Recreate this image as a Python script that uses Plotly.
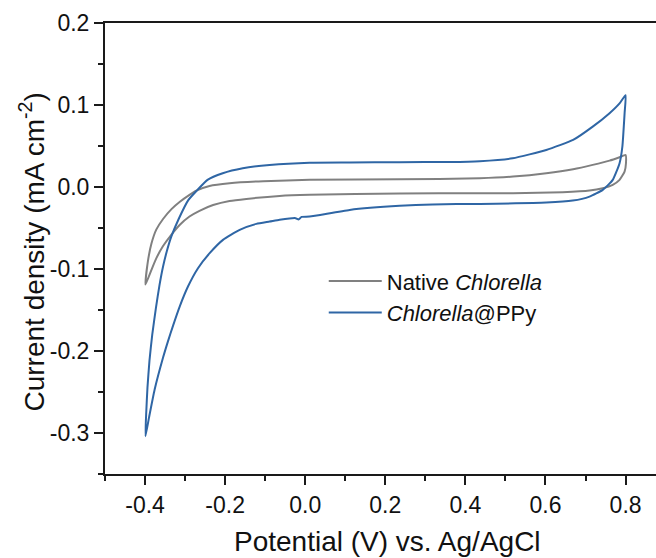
import plotly.graph_objects as go

# Native Chlorella: forward (anodic) branch then reverse branch
native_v = [-0.399, -0.393, -0.384, -0.372, -0.355, -0.334, -0.313, -0.289, -0.272, -0.239,
            -0.189, -0.105, 0.011, 0.236, 0.436, 0.519, 0.602, 0.669, 0.718, 0.760, 0.785, 0.800,
            0.801, 0.7975, 0.785, 0.768, 0.743, 0.710, 0.643, 0.519, 0.436, 0.236, 0.011,
            -0.064, -0.147, -0.189, -0.230, -0.264, -0.289, -0.313, -0.334, -0.355, -0.372,
            -0.384, -0.399]
native_i = [-0.119, -0.091, -0.069, -0.052, -0.039, -0.027, -0.018, -0.0096, -0.0044, 0.0013,
            0.0046, 0.0071, 0.0087, 0.0093, 0.0107, 0.0127, 0.0168, 0.0217, 0.027, 0.0322, 0.0363, 0.039,
            0.029, 0.0188, 0.0087, 0.0026, -0.0015, -0.0044, -0.0063, -0.0076, -0.0076, -0.0078, -0.0096,
            -0.011, -0.0145, -0.017, -0.022, -0.029, -0.036, -0.046, -0.058, -0.072, -0.087,
            -0.101, -0.119]

# Chlorella@PPy: forward branch then reverse branch
ppy_v = [-0.399, -0.397, -0.394, -0.389, -0.382, -0.373, -0.364, -0.355, -0.346, -0.334,
         -0.316, -0.292, -0.269, -0.244, -0.206, -0.156, -0.089, 0.011, 0.111, 0.236, 0.361, 0.436,
         0.518, 0.602, 0.669, 0.718, 0.760, 0.785, 0.800,
         0.7976, 0.792, 0.785, 0.768, 0.743, 0.710, 0.668, 0.602, 0.436, 0.318, 0.236, 0.111,
         0.011, -0.009, -0.0166, -0.024, -0.064, -0.0888, -0.122, -0.1637, -0.2054, -0.2386,
         -0.2678, -0.2928, -0.3135, -0.330, -0.343, -0.355, -0.376, -0.390, -0.399]
ppy_i = [-0.304, -0.275, -0.245, -0.212, -0.180, -0.148, -0.120, -0.097, -0.079, -0.060,
         -0.039, -0.016, -0.0035, 0.0087, 0.0168, 0.0229, 0.0269, 0.0297, 0.0300, 0.0303, 0.0305, 0.0315,
         0.035, 0.0452, 0.0574, 0.0736, 0.090, 0.102, 0.112,
         0.0903, 0.0492, 0.0290, 0.0087, -0.0035, -0.0117, -0.0166, -0.019, -0.0206, -0.0212, -0.023, -0.028,
         -0.036, -0.0365, -0.0395, -0.038, -0.040, -0.0422, -0.045, -0.0523, -0.0645, -0.0807,
         -0.099, -0.1214, -0.1458, -0.169, -0.1885, -0.208, -0.247, -0.281, -0.304]

x_tickvals = [-0.4, -0.2, 0.0, 0.2, 0.4, 0.6, 0.8]
x_ticktext = ["-0.4", "-0.2", "0.0", "0.2", "0.4", "0.6", "0.8"]
y_tickvals = [-0.3, -0.2, -0.1, 0.0, 0.1, 0.2]
y_ticktext = ["-0.3", "-0.2", "-0.1", "0.0", "0.1", "0.2"]

FONT = "Liberation Sans, Arial, sans-serif"

fig = go.Figure()
fig.add_trace(go.Scatter(x=native_v, y=native_i, mode="lines",
                         line=dict(color="#808080", width=2, shape="spline", smoothing=0.5),
                         name="Native <i>Chlorella</i>"))
fig.add_trace(go.Scatter(x=ppy_v, y=ppy_i, mode="lines",
                         line=dict(color="#2f66a5", width=2, shape="spline", smoothing=0.5),
                         name="<i>Chlorella</i>@PPy"))

axis_common = dict(showgrid=False, zeroline=False, showline=True, linewidth=2, linecolor="#1a1a1a",
                   ticks="outside", ticklen=9, tickwidth=1.5, tickcolor="#1a1a1a",
                   tickfont=dict(family=FONT, size=23, color="#111"))

fig.update_xaxes(range=[-0.5, 0.876], tickvals=x_tickvals, ticktext=x_ticktext, mirror=True,
                 minor=dict(ticks="outside", ticklen=5, tickwidth=1.5, tickcolor="#1a1a1a",
                            dtick=0.1, tick0=-0.5),
                 **axis_common)
fig.update_yaxes(range=[-0.35, 0.2], tickvals=y_tickvals, ticktext=y_ticktext,
                 minor=dict(ticks="outside", ticklen=5, tickwidth=1.5, tickcolor="#1a1a1a",
                            dtick=0.05, tick0=-0.35),
                 **axis_common)

fig.add_annotation(text="Potential (V) vs. Ag/AgCl", xref="paper", yref="paper",
                   x=0.5118, y=-0.1486, xanchor="center", yanchor="middle", showarrow=False,
                   font=dict(family=FONT, size=28, color="#111"))
fig.add_annotation(text="Current density (mA cm<sup>-2</sup>)", xref="paper", yref="paper",
                   x=-0.1325, y=0.4933, xanchor="center", yanchor="middle", showarrow=False,
                   textangle=-90, font=dict(family=FONT, size=28, color="#111"))

fig.update_layout(
    width=656, height=558,
    margin=dict(l=105, r=0, t=23, b=84),
    plot_bgcolor="white", paper_bgcolor="white",
    showlegend=True,
    legend=dict(x=0.397, y=0.392, xanchor="left", yanchor="middle", bgcolor="rgba(0,0,0,0)",
                font=dict(family=FONT, size=22, color="#111"), itemwidth=53, tracegroupgap=0),
)

fig.write_html("out.html")
